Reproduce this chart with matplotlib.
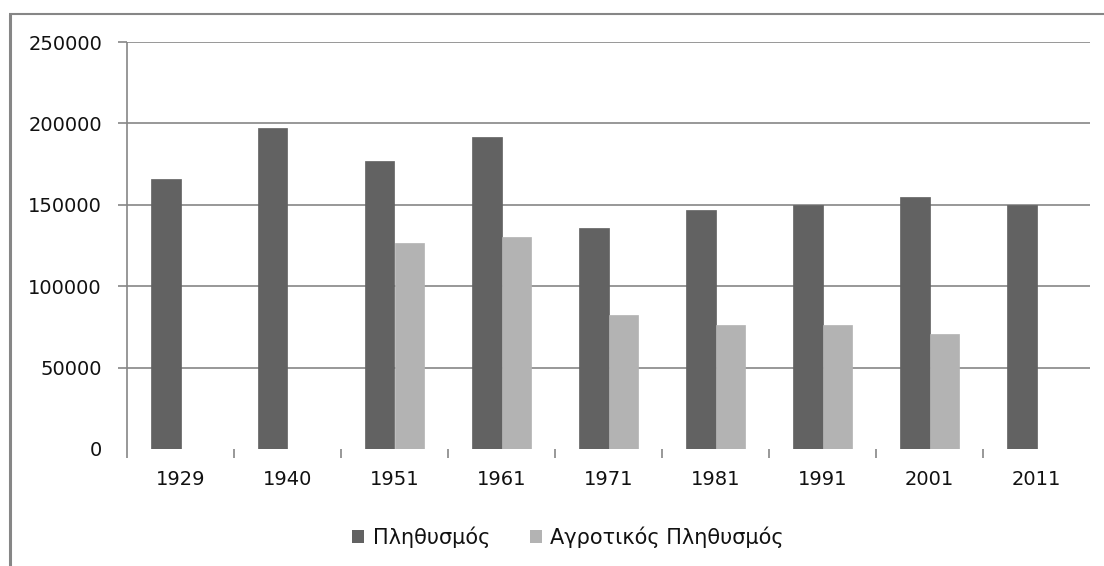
import matplotlib
matplotlib.use("Agg")
import matplotlib.pyplot as plt
from matplotlib.patches import Patch
from matplotlib.lines import Line2D
import numpy as np

years = ["1929", "1940", "1951", "1961", "1971", "1981", "1991", "2001", "2011"]
population = [166000, 197000, 177000, 191500, 135500, 147000, 150000, 155000, 150000]
rural = [np.nan, np.nan, 126400, 130100, 82500, 76200, 76200, 70900, np.nan]
series_names = ["Πληθυσμός", "Αγροτικός Πληθυσμός"]
yticks = [0, 50000, 100000, 150000, 200000, 250000]

W, H = 1104, 566
fig = plt.figure(figsize=(W / 100, H / 100), dpi=100)
plt.rcParams['font.family'] = ['DejaVu Sans']

dark = "#626262"
light = "#b3b3b3"
gridc = "#868686"
PX = 0.72  # points per pixel at dpi 100

ax = fig.add_axes([127 / W, (H - 449) / H, (1090 - 127) / W, (449 - 42) / H])
x = np.arange(len(years))
bw = 0.28
ax.bar(x - bw / 2, population, bw, color=dark, edgecolor=dark, linewidth=0.5, zorder=3)
ax.bar(x + bw / 2, rural, bw, color=light, edgecolor=light, linewidth=0.5, zorder=3)

ax.set_xlim(-0.5, len(years) - 0.5)
ax.set_ylim(0, 250000)
ax.set_yticks(yticks)
ax.set_yticklabels([str(v) for v in yticks])
for v in yticks[1:]:
    ax.axhline(v, color=gridc, lw=1.2, zorder=1)
ax.tick_params(axis='y', length=9 * PX, color=gridc, width=1.2, pad=16 * PX,
               labelsize=14, labelcolor="#111111")
ax.yaxis.get_major_ticks()[0].tick1line.set_visible(False)

ax.set_xticks(x)
ax.set_xticklabels(years)
ax.tick_params(axis='x', length=0, pad=15, labelsize=14, labelcolor="#111111")
ax.set_xticks(np.arange(0.5, len(years) - 1, 1), minor=True)
ax.tick_params(axis='x', which='minor', length=9 * PX, color=gridc, width=1.2)

for s in ax.spines.values():
    s.set_visible(False)
ax.plot([0, 0], [-9 / 407, 1], transform=ax.transAxes, color=gridc, lw=1.2,
        clip_on=False, zorder=4, solid_capstyle='butt')

handles = [Patch(facecolor=dark, edgecolor='none'), Patch(facecolor=light, edgecolor='none')]
fig.legend(handles, series_names, loc='center', bbox_to_anchor=(568 / W, (H - 537) / H),
           ncol=2, frameon=False, fontsize=15, handlelength=0.6, handleheight=0.6,
           handletextpad=0.4, columnspacing=1.9, labelcolor="#111111")

# outer frame
fig.add_artist(Line2D([9.5 / W, 9.5 / W], [0, (H - 14) / H], color=gridc, lw=2.2,
                      transform=fig.transFigure, solid_capstyle='butt'))
fig.add_artist(Line2D([8.5 / W, 1103.5 / W], [(H - 14) / H, (H - 14) / H], color=gridc, lw=1.5,
                      transform=fig.transFigure, solid_capstyle='butt'))

fig.savefig("out.png", dpi=100)
